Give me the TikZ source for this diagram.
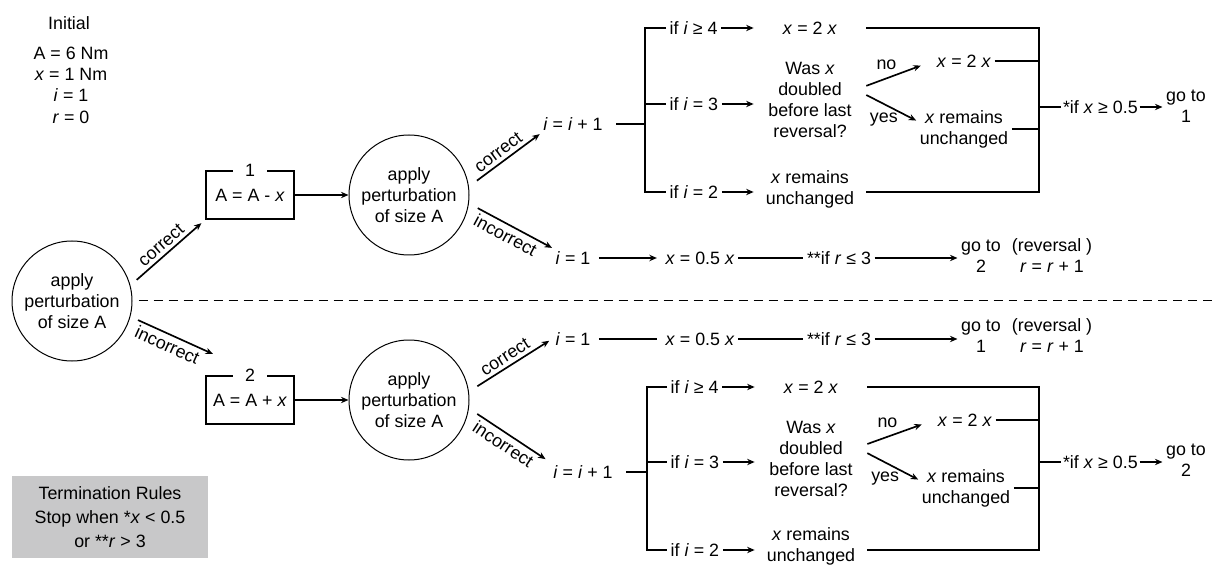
\documentclass[tikz,border=0pt]{standalone}
\usepackage{fontspec}
\setmainfont{Liberation Sans}
\usepackage{tikz}
\usetikzlibrary{arrows.meta,positioning,calc}
\definecolor{rulebg}{HTML}{C8C8C9}
\newcommand{\fs}{\fontsize{10.7}{12.6}\selectfont}
\newcommand{\itx}{\textit{x}}
\newcommand{\iti}{\textit{i}}
\newcommand{\itr}{\textit{r}}
\tikzset{
  txt/.style={inner sep=2pt, align=center, font=\fs},
  col/.style={txt, minimum width=67.2pt},
  ln/.style={line width=1pt, color=black},
  arr/.style={ln, -{Stealth[length=4.5pt,width=3.8pt]}},
  gap/.style={shorten <=3pt, shorten >=3pt},
  perturb/.style={draw, circle, line width=0.6pt, minimum size=72pt, inner sep=0pt, align=center, font=\fs},
  rulebox/.style={draw, line width=1pt, minimum width=52.8pt, minimum height=28.8pt, font=\fs},
  sepline/.style={line width=0.6pt, dash pattern=on 5.4pt off 3.6pt},
  lab/.style={font=\fs, sloped, midway, inner sep=2pt},
}

\begin{document}
\begin{tikzpicture}[x=0.6pt, y=-0.6pt]
    \useasboundingbox (0,0) rectangle (1213,567);
    \node[txt] (init) at (69,23) {Initial};
    \node[txt, font=\fontsize{10.7}{12.8}\selectfont, below=6pt of init, xshift=1.2pt] (initval) {A = 6 Nm\\\itx{} = 1 Nm\\\iti{} = 1\\\itr{} = 0};
    \node[fill=rulebg, minimum width=117.6pt, minimum height=49.2pt, align=center, font=\fontsize{10.7}{14.2}\selectfont] (term) at (110,517) {Termination Rules\\Stop when *\itx{} < 0.5\\or **\itr{} > 3};

    \node[perturb] (p0) at (72,301) {apply\\perturbation\\of size A};
    \node[rulebox] (b1) at (250,195) {A = A - \itx};
    \node[txt, fill=white, inner xsep=7pt] (b1n) at (b1.north) {1};
    \node[rulebox] (b2) at (250,400) {A = A + \itx};
    \node[txt, fill=white, inner xsep=7pt] (b2n) at (b2.north) {2};
    \node[perturb] (p1) at (409,195) {apply\\perturbation\\of size A};
    \node[perturb] (p2) at (409,400) {apply\\perturbation\\of size A};
    \coordinate (c0i) at (213,354);
    \coordinate (sepend) at (1213,301);

    % upper half
    \node[txt] (iu1) at (573,124) {\iti{} = \iti{} + 1};
    \coordinate (brA) at (645,124);
    \node[txt, anchor=west] (c4a) at (666,28) {if \iti{} ≥ 4};
    \node[txt, anchor=west] (c3a) at (666,104) {if \iti{} = 3};
    \node[txt, anchor=west] (c2a) at (666,192) {if \iti{} = 2};
    \node[col] (x2a) at (810,28) {\itx{} = 2 \itx};
    \node[col] (was1) at (810,100) {Was \itx\\doubled\\before last\\reversal?};
    \node[col] (ru2a) at (810,189) {\itx{} remains\\unchanged};
    \node[txt] (x2b) at (964,61) {\itx{} = 2 \itx};
    \node[txt] (ru3a) at (964,129) {\itx{} remains\\unchanged};
    \coordinate (brB) at (1039,107);
    \node[txt, anchor=west, inner sep=1pt] (xg1) at (1061,107) {*if \itx{} ≥ 0.5};
    \node[txt] (go1) at (1186,106) {go to\\1};
    \node[txt] (i1a) at (573,258) {\iti{} = 1};
    \node[txt] (h1a) at (700,258) {\itx{} = 0.5 \itx};
    \node[txt] (rr1a) at (839,258) {**if \itr{} ≤ 3};
    \node[txt] (go2a) at (981,256) {go to\\2};
    \node[txt] (rv1a) at (1052,256) {(reversal )\\\itr{} = \itr{} + 1};

    % lower half
    \node[txt] (i1b) at (573,339) {\iti{} = 1};
    \node[txt] (h1b) at (700,339) {\itx{} = 0.5 \itx};
    \node[txt] (rr1b) at (839,339) {**if \itr{} ≤ 3};
    \node[txt] (go1b) at (981,336) {go to\\1};
    \node[txt] (rv1b) at (1052,336) {(reversal )\\\itr{} = \itr{} + 1};
    \node[txt] (iu2) at (583,472) {\iti{} = \iti{} + 1};
    \coordinate (brC) at (647,472);
    \node[txt, anchor=west] (c4b) at (667,387) {if \iti{} ≥ 4};
    \node[txt, anchor=west] (c3b) at (667,462) {if \iti{} = 3};
    \node[txt, anchor=west] (c2b) at (667,550) {if \iti{} = 2};
    \node[col] (x2c) at (811,387) {\itx{} = 2 \itx};
    \node[col] (was2) at (811,459) {Was \itx\\doubled\\before last\\reversal?};
    \node[col] (ru2b) at (811,546) {\itx{} remains\\unchanged};
    \node[txt] (x2d) at (965,420) {\itx{} = 2 \itx};
    \node[txt] (ru3b) at (966,488) {\itx{} remains\\unchanged};
    \coordinate (brD) at (1039,462);
    \node[txt, anchor=west, inner sep=1pt] (xg2) at (1061,462) {*if \itx{} ≥ 0.5};
    \node[txt] (go2b) at (1186,460) {go to\\2};

    \draw[sepline, shorten <=3.6pt] (p0.east) -- (sepend);
    \draw[arr, shorten <=5pt, shorten >=3pt] (p0.15) -- (b1.south west) node[lab, above] (l0c) {correct};
    \draw[arr, shorten <=5pt] (p0.-15) -- (c0i) node[lab, below] (l0i) {incorrect};
    \draw[arr] (b1) -- (p1); \draw[arr] (b2) -- (p2);
    \draw[arr, shorten <=6pt] (p1.8) -- (iu1.south west) node[lab, above] (l1c) {correct};
    \draw[arr, shorten <=6pt] (p1.-8) -- (i1a.north west) node[lab, below] (l1i) {incorrect};
    \draw[arr, shorten <=6pt, shorten >=2pt] (p2.8) -- (i1b.west) node[lab, above] (l2c) {correct};
    \draw[arr, shorten <=6pt, shorten >=3pt] (p2.-8) -- (iu2.north west) node[lab, below] (l2i) {incorrect};

    \draw[ln, shorten <=6pt] (iu1) -- (brA);
    \draw[ln] (c4a.west) -| (brA) |- (c2a.west);
    \draw[ln] (brA |- c3a.west) -- (c3a.west);
    \draw[arr] (c4a) -- (x2a);
    \draw[arr] (c3a) -- (c3a -| was1.west);
    \draw[arr] (c2a) -- (c2a -| ru2a.west);
    \draw[arr, shorten >=8pt] ([yshift=8.5pt]was1.east) -- (x2b.west) node[txt, pos=0.3, above=3pt] (no1) {no};
    \draw[arr] ([yshift=3pt]was1.east) -- (ru3a.170) node[txt, pos=0.35, below=3pt] (yes1) {yes};
    \draw[ln] (x2a.east) -| (brB) |- (c2a -| ru2a.east);
    \draw[ln] (x2b.east) -- (x2b.east -| brB);
    \draw[ln] (ru3a.east) -- (ru3a.east -| brB);
    \draw[ln] (brB) -- (xg1.west);
    \draw[arr] (xg1.east) -- (xg1.east -| go1.west);
    \draw[arr, gap] (i1a) -- (h1a);
    \draw[ln] (h1a) -- (rr1a);
    \draw[arr] (rr1a) -- (rr1a -| go2a.west);

    \draw[ln, gap] (i1b) -- (h1b);
    \draw[ln] (h1b) -- (rr1b);
    \draw[arr] (rr1b) -- (rr1b -| go1b.west);
    \draw[ln, shorten <=6pt] (iu2) -- (brC);
    \draw[ln] (c4b.west) -| (brC) |- (c2b.west);
    \draw[ln] (brC |- c3b.west) -- (c3b.west);
    \draw[arr] (c4b) -- (x2c);
    \draw[arr] (c3b) -- (c3b -| was2.west);
    \draw[arr] (c2b) -- (c2b -| ru2b.west);
    \draw[arr, shorten >=8pt] ([yshift=9pt]was2.east) -- (x2d.west) node[txt, pos=0.3, above=3pt] (no2) {no};
    \draw[arr] ([yshift=3.5pt]was2.east) -- (ru3b.170) node[txt, pos=0.35, below=3pt] (yes2) {yes};
    \draw[ln] (x2c.east) -| (brD) |- (c2b -| ru2b.east);
    \draw[ln] (x2d.east) -- (x2d.east -| brD);
    \draw[ln] (ru3b.east) -- (ru3b.east -| brD);
    \draw[ln] (brD) -- (xg2.west);
    \draw[arr] (xg2.east) -- (xg2.east -| go2b.west);
  \end{tikzpicture}
\end{document}
